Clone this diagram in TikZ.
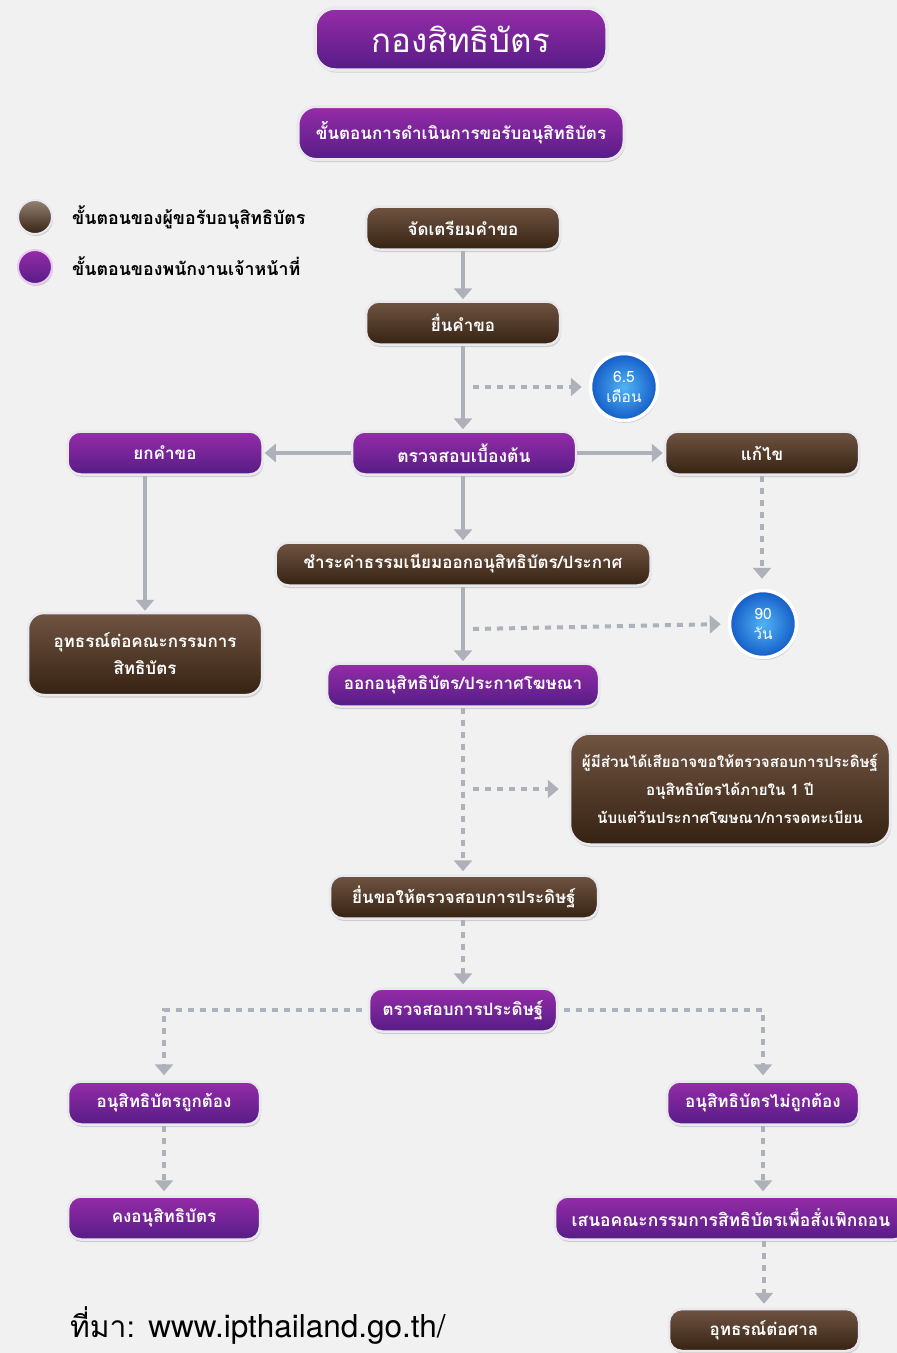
\documentclass[tikz,border=0pt]{standalone}
\usepackage{fontspec}
\setmainfont[Script=Thai]{Loma}
\newfontfamily\latin{TeX Gyre Heros}
\usetikzlibrary{arrows.meta,shadows,calc}
\definecolor{bg}{RGB}{241,241,242}
\definecolor{ln}{RGB}{172,177,186}
\definecolor{ptop}{RGB}{150,44,168}
\definecolor{pbot}{RGB}{86,28,134}
\definecolor{btop}{RGB}{112,84,66}
\definecolor{bbot}{RGB}{54,34,18}
\definecolor{rim}{RGB}{232,232,238}
\definecolor{blin}{RGB}{80,180,245}
\definecolor{blout}{RGB}{20,92,200}
\tikzset{
  box/.style={rounded corners=13pt, inner sep=0pt, minimum height=43pt, text=white, align=center,
    font=\bfseries\fontsize{17}{27}\selectfont, draw=rim, line width=2.5pt,
    drop shadow={shadow xshift=1pt, shadow yshift=-2.5pt, opacity=0.3}},
  pbox/.style={box, top color=ptop, bottom color=pbot},
  bbox/.style={box, top color=btop, bottom color=bbot},
  circ/.style={circle, minimum size=67pt, inner sep=0pt, draw=white, line width=3.5pt,
    inner color=blin, outer color=blout, text=white, align=center,
    font=\fontsize{15.5}{20}\selectfont,
    drop shadow={shadow xshift=1pt, shadow yshift=-2.5pt, opacity=0.3}},
  arr/.style={draw=ln, line width=4pt, -{Triangle[width=18pt,length=11pt]}, shorten >=1pt},
  dotarr/.style={arr, dash pattern=on 6pt off 6pt},
  legtext/.style={anchor=west, inner sep=0pt, font=\bfseries\fontsize{17.8}{20}\selectfont, text=black},
}
\begin{document}
\begin{tikzpicture}[x=1pt,y=-1pt]
\fill[bg] (0,0) rectangle (897,1353);
\useasboundingbox (0,0) rectangle (897,1353);

% header
\node[pbox, minimum width=292pt, minimum height=62pt, rounded corners=20pt, line width=3.5pt,
  font=\fontsize{33}{36}\selectfont] (title) at (461,39) {กองสิทธิบัตร};
\node[pbox, minimum width=326pt, minimum height=53pt, rounded corners=18pt, line width=3pt,
  font=\bfseries\fontsize{17}{20}\selectfont] (sub) at (461,133) {ขั้นตอนการดำเนินการขอรับอนุสิทธิบัตร};

% legend
\node[circle, minimum size=34pt, inner sep=0pt, draw=rim, line width=2pt, top color={rgb,255:red,150;green,130;blue,115}, bottom color=bbot,
  drop shadow={shadow xshift=1pt, shadow yshift=-2pt, opacity=0.3}] (lg1) at (35,217) {};
\node[circle, minimum size=34pt, inner sep=0pt, draw={rgb,255:red,235;green,200;blue,240}, line width=2pt, top color=ptop, bottom color=pbot,
  drop shadow={shadow xshift=1pt, shadow yshift=-2pt, opacity=0.3}] (lg2) at (35,267) {};
\node[legtext] (lt1) at (72,217) {ขั้นตอนของผู้ขอรับอนุสิทธิบัตร};
\node[legtext] (lt2) at (72,266) {ขั้นตอนของพนักงานเจ้าหน้าที่};

% main nodes
\node[bbox, minimum width=194pt] (prep) at (463,228) {จัดเตรียมคำขอ};
\node[bbox, minimum width=194pt] (file) at (463,323) {ยื่นคำขอ};
\node[circ] (c65) at (624,387) {6.5\\เดือน};
\node[pbox, minimum width=224pt, font=\bfseries\fontsize{17.6}{27}\selectfont] (chk) at (464,453) {ตรวจสอบเบื้องต้น};
\node[pbox, minimum width=195pt] (rej) at (165,453) {ยกคำขอ};
\node[bbox, minimum width=194pt] (fix) at (762,453) {แก้ไข};
\node[bbox, minimum width=375pt] (pay) at (463,564) {ชำระค่าธรรมเนียมออกอนุสิทธิบัตร/ประกาศ};
\node[bbox, minimum width=234pt, minimum height=82pt, rounded corners=16pt] (ap1) at (145,654) {อุทธรณ์ต่อคณะกรรมการ\\สิทธิบัตร};
\node[circ] (c90) at (763,624) {90\\วัน};
\node[pbox, minimum width=272pt] (iss) at (463,685) {ออกอนุสิทธิบัตร/ประกาศโฆษณา};
\node[bbox, minimum width=320pt, minimum height=111pt, rounded corners=20pt,
  font=\bfseries\fontsize{15.2}{28}\selectfont] (int) at (730,789)
  {ผู้มีส่วนได้เสียอาจขอให้ตรวจสอบการประดิษฐ์\\อนุสิทธิบัตรได้ภายใน 1 ปี\\นับแต่วันประกาศโฆษณา/การจดทะเบียน};
\node[bbox, minimum width=268pt] (req) at (464,897) {ยื่นขอให้ตรวจสอบการประดิษฐ์};
\node[pbox, minimum width=188pt] (exam) at (463,1010) {ตรวจสอบการประดิษฐ์};
\node[pbox, minimum width=192pt] (ok) at (164,1103) {อนุสิทธิบัตรถูกต้อง};
\node[pbox, minimum width=192pt] (nok) at (763,1103) {อนุสิทธิบัตรไม่ถูกต้อง};
\node[pbox, minimum width=192pt] (keep) at (164,1218) {คงอนุสิทธิบัตร};
\node[pbox, minimum width=352pt, font=\bfseries\fontsize{17.4}{27}\selectfont] (prop) at (731,1218) {เสนอคณะกรรมการสิทธิบัตรเพื่อสั่งเพิกถอน};
\node[bbox, minimum width=190pt, minimum height=42pt] (court) at (764,1330) {อุทธรณ์ต่อศาล};

% source
\node[anchor=base west, inner sep=0pt, text=black] (src) at (70,1337)
  {\fontsize{30}{34}\selectfont ที่มา: {\latin\fontsize{31.5}{34}\selectfont www.ipthailand.go.th/}};

% connectors
\coordinate (t1) at (473,387);
\coordinate (t2) at (473,629);
\coordinate (t3) at (473,789);
\draw[arr] (prep.south) -- (file.north);
\draw[arr] (file.south) -- (file.south |- chk.north);
\draw[dotarr, shorten >=7pt] (t1) -- (c65.west);
\draw[arr] (chk.west) -- (rej.east);
\draw[arr] (chk.east) -- (fix.west);
\draw[arr] (rej.south -| ap1.north) -- (ap1.north);
\draw[dotarr, shorten >=10pt] (fix.south) -- (fix.south |- c90.north);
\draw[arr] (pay.north |- chk.south) -- (pay.north);
\draw[arr] (pay.south) -- (iss.north);
\draw[dotarr, shorten >=7pt] (t2) -- (c90.west);
\draw[dotarr, shorten >=3pt] (iss.south) -- (iss.south |- req.north);
\draw[dotarr, shorten >=10pt] (t3) -- (int.west);
\draw[dotarr, shorten >=3pt] (req.south -| exam.north) -- (exam.north);
\draw[dotarr, shorten >=5pt] ([xshift=-6pt]exam.west) -| (ok.north);
\draw[dotarr, shorten >=5pt] ([xshift=6pt]exam.east) -| (nok.north);
\draw[dotarr, shorten >=4pt] (ok.south) -- (keep.north);
\draw[dotarr, shorten >=4pt] (nok.south) -- (nok.south |- prop.north);
\draw[dotarr, shorten >=4pt] (prop.south -| court.north) -- (court.north);
\end{tikzpicture}
\end{document}
